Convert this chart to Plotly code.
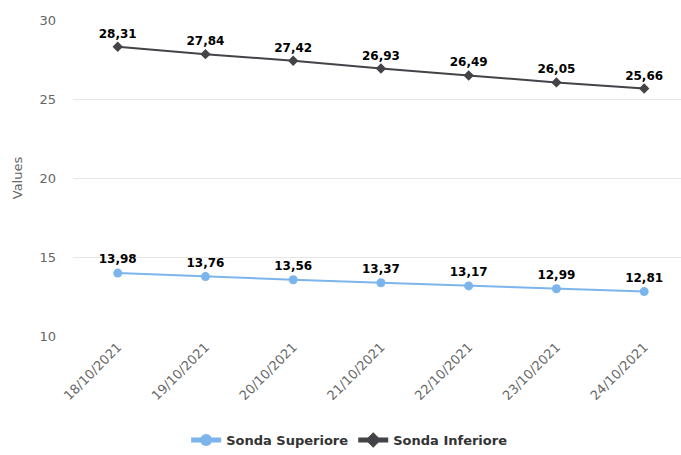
import plotly.graph_objects as go

dates = ["18/10/2021", "19/10/2021", "20/10/2021", "21/10/2021", "22/10/2021", "23/10/2021", "24/10/2021"]
superiore = [13.98, 13.76, 13.56, 13.37, 13.17, 12.99, 12.81]
inferiore = [28.31, 27.84, 27.42, 26.93, 26.49, 26.05, 25.66]

def fmt(v):
    return f"{v:.2f}".replace(".", ",")

x = list(range(len(dates)))
fig = go.Figure()
fig.add_trace(go.Scatter(
    x=x, y=superiore, name="Sonda Superiore", mode="lines+markers+text",
    line=dict(color="#7cb5ec", width=2),
    marker=dict(symbol="circle", size=9, color="#7cb5ec"),
    text=[fmt(v) for v in superiore], textposition="top center",
    textfont=dict(family="DejaVu Sans", size=12, color="#000000", weight="bold"),
))
fig.add_trace(go.Scatter(
    x=x, y=inferiore, name="Sonda Inferiore", mode="lines+markers+text",
    line=dict(color="#434348", width=2),
    marker=dict(symbol="diamond", size=8, color="#434348"),
    text=[fmt(v) for v in inferiore], textposition="top center",
    textfont=dict(family="DejaVu Sans", size=12, color="#000000", weight="bold"),
))
fig.update_layout(
    width=681, height=455,
    margin=dict(l=73, r=0, t=20, b=109),
    plot_bgcolor="white", paper_bgcolor="white",
    font=dict(family="DejaVu Sans", color="#666666", size=12),
    showlegend=True,
    legend=dict(orientation="h", x=0.455, xanchor="center", y=-0.33, yanchor="middle",
                font=dict(size=13, color="#333333", weight="bold"),
                itemsizing="constant", tracegroupgap=0),
    xaxis=dict(range=[-0.51, 6.42], tickmode="array", tickvals=x, ticktext=dates,
               tickangle=-45, showgrid=False, zeroline=False, showline=False,
               ticks="", automargin=False, tickfont=dict(size=13, color="#666666")),
    yaxis=dict(range=[10, 30], dtick=5, showgrid=True, gridcolor="#e6e6e6",
               zeroline=False, showline=False, ticks="", ticklabelstandoff=16,
               automargin=False,
               title=dict(text="Values", font=dict(size=13, color="#666666"), standoff=13),
               tickfont=dict(size=13, color="#666666")),
)
fig.write_html("out.html", config={"displayModeBar": False},
               post_script="document.body.style.margin='0';")
